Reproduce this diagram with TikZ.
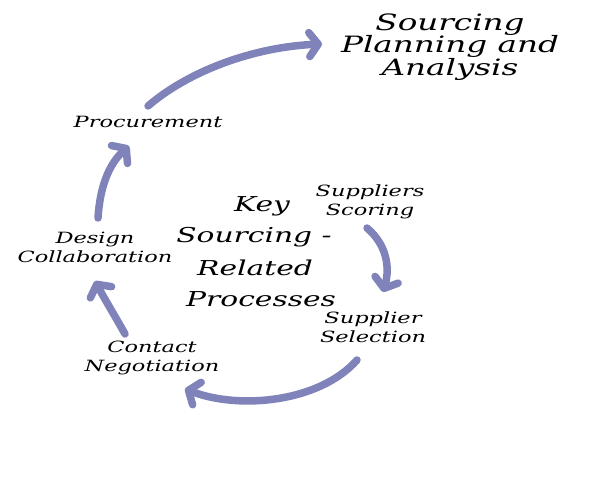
\documentclass[tikz,border=0pt]{standalone}
\usepackage{fontspec}
\newfontfamily\hand[FakeStretch=1.45]{DejaVu Serif}
\usetikzlibrary{arrows.meta}
\definecolor{arr}{RGB}{128,131,186}
\tikzset{
  flow/.style={draw=arr, line width=7.5pt, line cap=round,
    -{Straight Barb[round, length=9pt, width=24pt]}},
  lab/.style={font=\hand\itshape\fontsize{15.5}{19}\selectfont, align=center, inner sep=0pt, text=black},
  biglab/.style={font=\hand\itshape\fontsize{22.5}{22.5}\selectfont, align=center, inner sep=0pt},
  midlab/.style={font=\hand\itshape\fontsize{20.5}{20}\selectfont, inner sep=0pt}
}
\begin{document}
\begin{tikzpicture}[x=1pt,y=-1pt]
\useasboundingbox[fill=white] (0,0) rectangle (600,482);
% labels
\node[biglab] (spa) at (450,47) {Sourcing\\Planning and\\Analysis};
\node[lab] (proc) at (148,122) {Procurement};
\node[lab] (sco) at (370,202) {Suppliers\\Scoring};
\node[lab] (des) at (95,247) {Design\\Collaboration};
\node[lab] (sel) at (373,327) {Supplier\\Selection};
\node[lab] (con) at (152,358) {Contact\\Negotiation};
\node[midlab] (k1) at (262,206) {Key};
\node[midlab] (k2) at (254,237) {Sourcing -};
\node[midlab] (k3) at (255,268) {Related};
\node[midlab] (k4) at (261,299) {Processes};
% connector end points
\coordinate (a1s) at (148,106);
\coordinate (a1e) at (322,44);
\coordinate (a2s) at (98,218);
\coordinate (a2e) at (129,146);
\coordinate (a3s) at (367,228);
\coordinate (a3e) at (383,292);
\coordinate (a4s) at (357,360);
\coordinate (a4e) at (185,389);
\coordinate (a5s) at (125,334);
\coordinate (a5e) at (95,281);
% arrows
\draw[flow] (a1s) .. controls (190,70) and (255,47) .. (a1e);
\draw[flow] (a2s) .. controls (100,185) and (110,163) .. (a2e);
\draw[flow] (a3s) .. controls (387,245) and (390,268) .. (a3e);
\draw[flow] (a4s) .. controls (320,402) and (240,410) .. (a4e);
\draw[flow] (a5s) .. controls (115,316) and (104,298) .. (a5e);
\end{tikzpicture}
\end{document}
